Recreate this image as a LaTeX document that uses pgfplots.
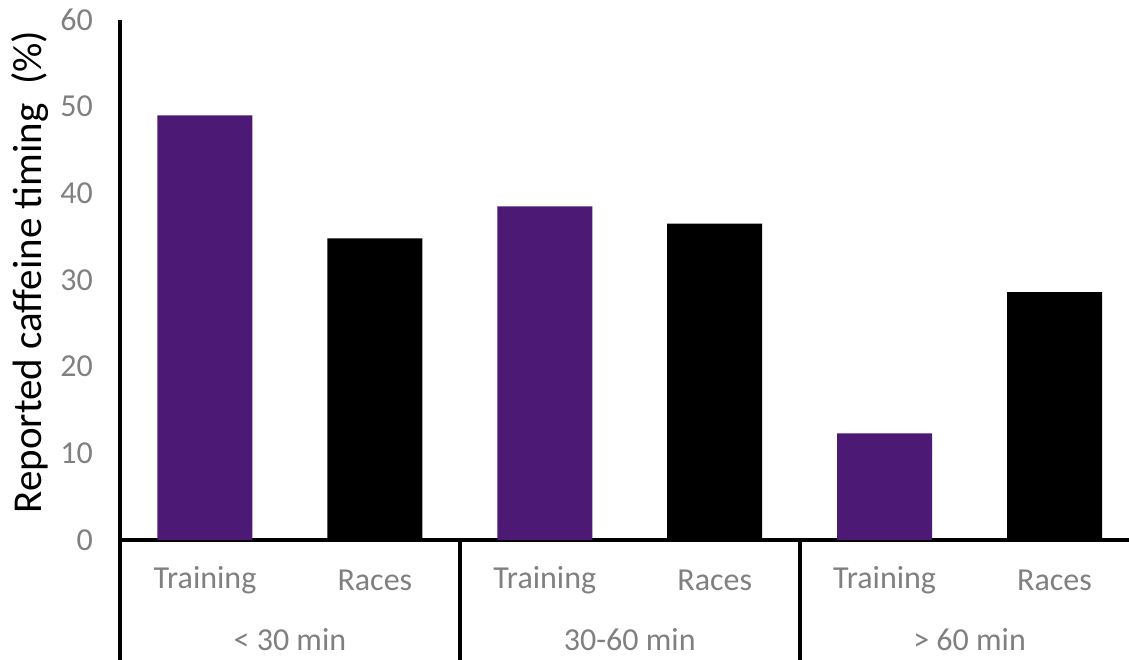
\documentclass[border=0pt]{standalone}
\usepackage{pgfplots}
\pgfplotsset{compat=1.18}
\usepackage{fontspec}
\setmainfont{Carlito}
\definecolor{trainpurple}{RGB}{76,25,116}
\definecolor{tickgray}{RGB}{128,128,128}
\begin{document}
\begin{tikzpicture}
\clip (-60pt,-59.5pt) rectangle (504.5pt,270pt);
\begin{axis}[
  at={(0,0)}, anchor=south west,
  scale only axis, width=509.75pt, height=260pt,
  xmin=-0.5, xmax=5.5, ymin=0, ymax=60,
  axis x line=bottom, axis y line=left,
  axis line style={line width=2pt, -, black},
  /pgf/number format/assume math mode=true,
  ytick={0,10,...,60},
  yticklabel style={font=\fontsize{16}{19}\selectfont, text=tickgray, xshift=-10pt},
  xtick={0,...,5},
  xticklabels={Training,Races,Training,Races,Training,Races},
  xticklabel style={font=\fontsize{16}{19}\selectfont, text=tickgray, anchor=center, yshift=-20pt},
  major tick length=0pt,
  extra x ticks={-0.5,1.5,3.5,5.5},
  extra x tick labels={},
  extra x tick style={major tick length=60pt, tick align=outside, tick style={line width=2pt, black}},
  ybar, bar width=47.5pt,
  clip=false,
]
\addplot[fill=trainpurple, draw=none, bar shift=0pt] coordinates {(0,49.0) (2,38.5) (4,12.3)};
\addplot[fill=black, draw=none, bar shift=0pt] coordinates {(1,34.8) (3,36.5) (5,28.6)};
\node[font=\fontsize{16}{19}\selectfont, text=tickgray] at ([yshift=-50pt]axis cs:0.5,0) {< 30 min};
\node[font=\fontsize{16}{19}\selectfont, text=tickgray] at ([yshift=-50pt]axis cs:2.5,0) {30-60 min};
\node[font=\fontsize{16}{19}\selectfont, text=tickgray] at ([yshift=-50pt]axis cs:4.5,0) {> 60 min};
\node[font=\fontsize{20.5}{24}\selectfont, rotate=90] at ([xshift=-45pt, yshift=4pt]rel axis cs:0,0.5) {Reported caffeine timing~ (\%)};
\end{axis}
\end{tikzpicture}
\end{document}
